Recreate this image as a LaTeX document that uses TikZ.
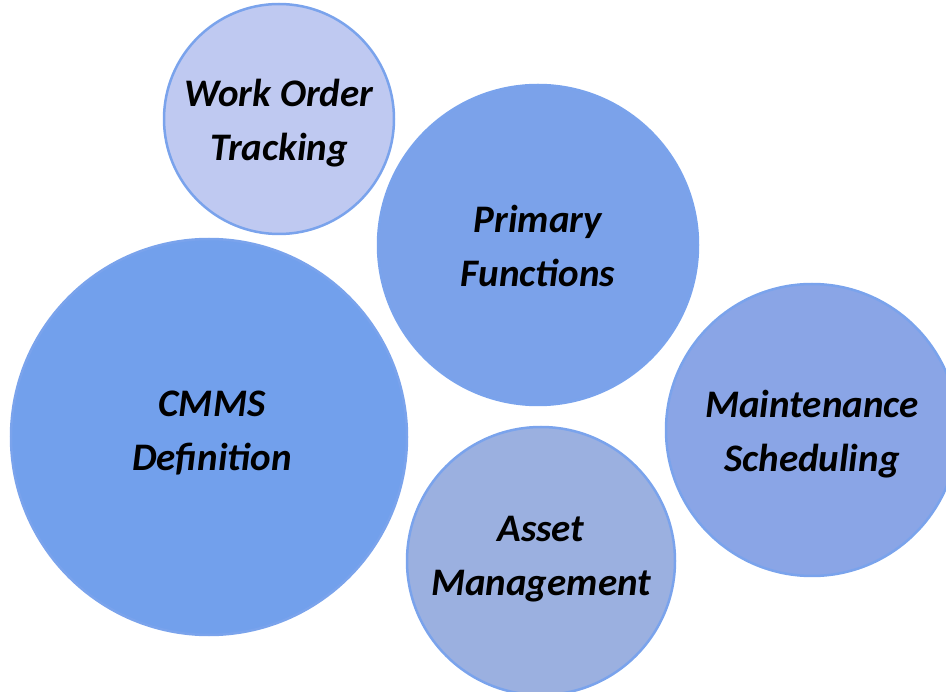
\documentclass[tikz,border=0pt]{standalone}
\usepackage{fontspec}
\setmainfont{Carlito}
\definecolor{edgeblue}{HTML}{7AA3EC}
\definecolor{fillwork}{HTML}{BFC9F1}
\definecolor{fillprim}{HTML}{7BA2EA}
\definecolor{fillcmms}{HTML}{72A0EC}
\definecolor{fillmaint}{HTML}{8AA5E6}
\definecolor{fillasset}{HTML}{9BB0E0}
\tikzset{
  labelfont/.style={font=\fontsize{39}{54}\selectfont\bfseries\itshape, text=black, align=center},
  bubble/.style={circle, draw=edgeblue, line width=2.5pt, inner sep=0pt}
}
\begin{document}
\begin{tikzpicture}[x=1pt,y=-1pt]
\useasboundingbox (0,0) rectangle (946,692);
\node[bubble, fill=fillwork, minimum size=230pt] (work) at (279,119) {};
\node[labelfont] (worktext) at (279,123) {Work Order\\Tracking};
\node[bubble, fill=fillprim, minimum size=320pt] (prim) at (538,245) {};
\node[labelfont] (primtext) at (538,246) {Primary\\Functions};
\node[bubble, fill=fillcmms, minimum size=396pt] (cmms) at (209,437) {};
\node[labelfont] (cmmstext) at (212,433) {CMMS\\Definition};
\node[bubble, fill=fillmaint, minimum size=292pt] (maint) at (812,430) {};
\node[labelfont] (mainttext) at (812,434) {Maintenance\\Scheduling};
\node[bubble, fill=fillasset, minimum size=268pt] (asset) at (541,561) {};
\node[labelfont] (assettext) at (541,559) {Asset\\Management};
\end{tikzpicture}
\end{document}
